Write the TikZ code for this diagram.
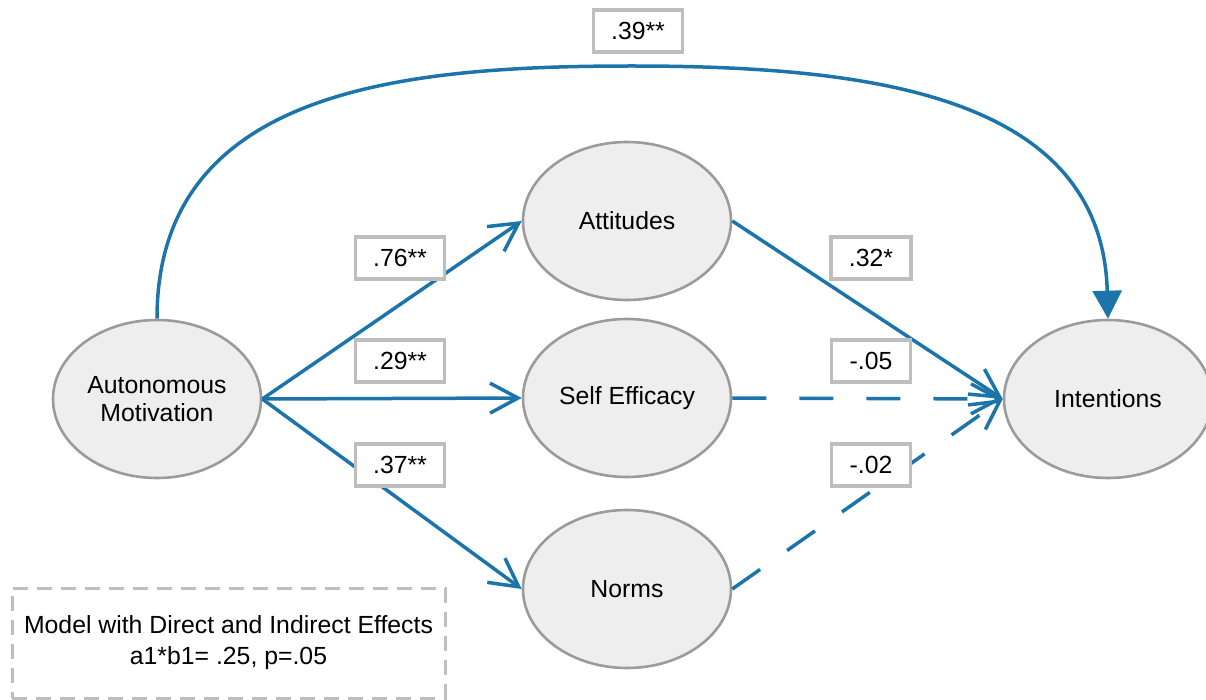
\documentclass[tikz,border=0pt]{standalone}
\usepackage{fontspec}
\setmainfont{Liberation Sans}
\usetikzlibrary{arrows.meta,shapes.geometric}
\definecolor{pathblue}{RGB}{28,117,170}
\definecolor{nodefill}{RGB}{238,238,238}
\definecolor{nodeline}{RGB}{155,155,155}
\definecolor{boxline}{RGB}{190,190,190}
\begin{document}
\begin{tikzpicture}[x=0.5pt,y=-0.5pt,
  latent/.style={ellipse, draw=nodeline, line width=1.3pt, fill=nodefill,
    inner sep=0pt, minimum width=104pt, minimum height=79pt,
    font=\fontsize{12.4}{14}\selectfont, align=center},
  coef/.style={draw=boxline, line width=1.6pt, fill=white,
    inner xsep=9pt, minimum height=21pt,
    font=\fontsize{12.4}{14}\selectfont},
  effect/.style={draw=pathblue, line width=1.75pt,
    -{Straight Barb[length=14pt,width=15pt,line width=1.75pt]}},
  neffect/.style={effect, dash pattern=on 17pt off 16.5pt},
  direct/.style={draw=pathblue, line width=1.75pt,
    -{Triangle[length=14pt,width=14.5pt]}},
  note/.style={draw=boxline, line width=1.5pt, dash pattern=on 7.5pt off 4.5pt,
    minimum width=216.5pt, minimum height=55pt, align=center,
    font=\fontsize{12.4}{15.5}\selectfont}]
\useasboundingbox (0,0) rectangle (1206,700);

% latent variables
\node[latent] (auto) at (157,399) {Autonomous\\Motivation};
\node[latent] (att)  at (627,221) {Attitudes};
\node[latent] (self) at (627,398) {Self Efficacy};
\node[latent] (norm) at (627,589) {Norms};
\node[latent] (int)  at (1108,399) {Intentions};

% direct effect over the top
\draw[direct] (auto.north) .. controls (157,90) and (400,66) .. (632,66)
  .. controls (870,66) and (1102,95) .. (int.north);

% indirect paths
\draw[effect]  (auto.east) -- (att.west);
\draw[effect]  (auto.east) -- (self.west);
\draw[effect]  (auto.east) -- (norm.west);
\draw[effect]  (att.east) -- (int.west);
\draw[neffect] (self.east) -- (int.west);
\draw[neffect] (norm.east) -- (int.west);

% path coefficients
\node[coef] (c39) at (638,31)  {.39**};
\node[coef] (c76) at (400,258) {.76**};
\node[coef] (c29) at (400,361) {.29**};
\node[coef] (c37) at (400,465) {.37**};
\node[coef] (c32) at (871,258) {.32*};
\node[coef] (c05) at (871,361) {-.05};
\node[coef] (c02) at (871,465) {-.02};

% model note
\node[note] (legend) at (228.5,643) {Model with Direct and Indirect Effects\\a1*b1= .25, p=.05};
\end{tikzpicture}
\end{document}
